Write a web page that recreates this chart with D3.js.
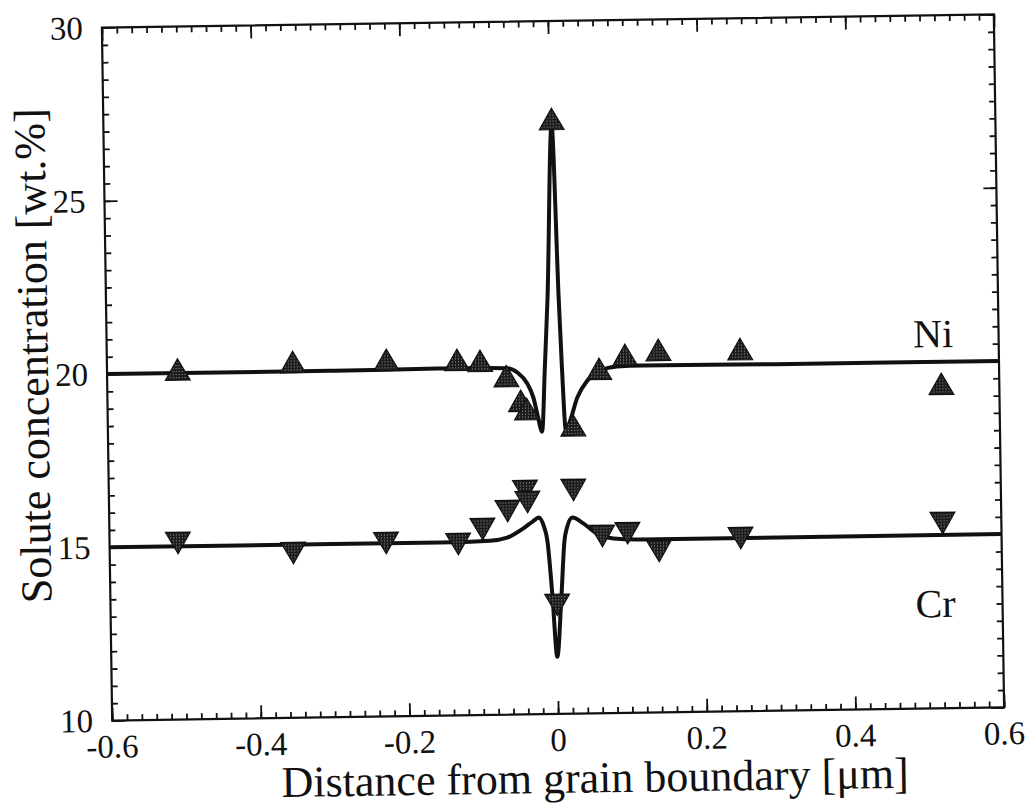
<!DOCTYPE html>
<html>
<head>
<meta charset="utf-8">
<script src="https://cdn.jsdelivr.net/npm/d3@7"></script>
<style>
  html, body { margin: 0; padding: 0; background: #fff; }
  svg { display: block; }
  text { font-family: "Liberation Serif", "Times New Roman", serif; fill: #111; }
</style>
</head>
<body>
<svg id="chart" width="1034" height="806"></svg>
<script>
// ---------- data ----------
const xDomain = [-0.6, 0.6];
const yDomain = [10, 30];
const xTickValues = [-0.6, -0.4, -0.2, 0, 0.2, 0.4, 0.6];
const xTickLabels = ["-0.6", "-0.4", "-0.2", "0", "0.2", "0.4", "0.6"];
const yTickValues = [10, 15, 20, 25, 30];
const yTickLabels = ["10", "15", "20", "25", "30"];
const xMinorStep = 0.02;
const yMinorStep = 0.5;

// measured Ni points [distance µm, wt.%]
const niX = [-0.505, -0.350, -0.224, -0.129, -0.098, -0.063, -0.044, -0.036, 0.003, 0.026, 0.062, 0.097, 0.142, 0.252, 0.522];
const niY = [20.0, 20.17, 20.19, 20.16, 20.12, 19.67, 18.95, 18.71, 27.07, 18.22, 19.84, 20.23, 20.36, 20.35, 19.26];
// measured Cr points
const crX = [-0.508, -0.353, -0.228, -0.131, -0.098, -0.064, -0.040, -0.037, 0.001, 0.025, 0.063, 0.097, 0.139, 0.249, 0.521];
const crY = [15.20, 14.86, 15.11, 15.05, 15.47, 15.98, 16.55, 16.23, 13.25, 16.56, 15.22, 15.29, 14.76, 15.10, 15.45];

// fitted profiles
const niCurveX = [-0.6, -0.3, -0.15, -0.062, -0.048, -0.035, -0.027, -0.021, -0.016, -0.011, -0.006, 0.003, 0.009, 0.012, 0.016, 0.022, 0.032, 0.046, 0.064, 0.086, 0.12, 0.3, 0.6];
const niCurveY = [20.0, 20.0, 20.02, 20.0, 19.87, 19.55, 19.14, 18.56, 18.15, 20.0, 22.0, 27.0, 22.0, 20.0, 18.18, 18.46, 19.12, 19.61, 19.89, 20.0, 20.02, 20.0, 20.0];
const crCurveX = [-0.6, -0.3, -0.155, -0.088, -0.065, -0.043, -0.030, -0.022, -0.015, -0.011, -0.0055, 0.0, 0.0065, 0.012, 0.016, 0.023, 0.0376, 0.056, 0.0775, 0.114, 0.3, 0.6];
const crCurveY = [15.0, 15.0, 15.0, 15.03, 15.11, 15.37, 15.57, 15.68, 15.39, 15.0, 13.48, 11.65, 13.3, 15.0, 15.4, 15.66, 15.49, 15.19, 15.04, 15.0, 15.0, 15.0];

const seriesLabels = [
  { text: "Ni", x: 0.485, y: 20.42 },
  { text: "Cr", x: 0.483, y: 12.63 }
];
const xTitle = "Distance from grain boundary [\u03bcm]";
const yTitle = "Solute concentration [wt.%]";

// ---------- layout ----------
const L = 107, R = 999, T = 21, B = 714;
const svg = d3.select("#chart");

const defs = svg.append("defs");
const pat = defs.append("pattern").attr("id", "stip")
  .attr("patternUnits", "userSpaceOnUse").attr("width", 3).attr("height", 3);
pat.append("rect").attr("width", 3).attr("height", 3).attr("fill", "#1c1c1c");
pat.append("rect").attr("x", 1).attr("y", 1).attr("width", 0.9).attr("height", 0.9).attr("fill", "#bdbdbd");

const g = svg.append("g").attr("transform", `rotate(-0.85, 553, 367)`);

const x = d3.scaleLinear().domain(xDomain).range([L, R]);
const y = d3.scaleLinear().domain(yDomain).range([B, T]);

const xMinor = d3.range(0, 61).map(i => +(xDomain[0] + i * xMinorStep).toFixed(3));
const yMinor = d3.range(0, 41).map(i => +(yDomain[0] + i * yMinorStep).toFixed(2));

function drawAxis(axisFn, scale, values, size, tr) {
  const a = g.append("g").attr("transform", tr)
    .call(axisFn(scale).tickValues(values).tickSize(size).tickFormat(""));
  a.select(".domain").remove();
  a.selectAll("line").attr("stroke", "#111").attr("stroke-width", 1.8);
}
// minor ticks (inward)
drawAxis(d3.axisBottom, x, xMinor, -6, `translate(0,${B})`);
drawAxis(d3.axisTop, x, xMinor, -6, `translate(0,${T})`);
drawAxis(d3.axisLeft, y, yMinor, -6, `translate(${L},0)`);
drawAxis(d3.axisRight, y, yMinor, -6, `translate(${R},0)`);
// major ticks
drawAxis(d3.axisBottom, x, xTickValues, -13, `translate(0,${B})`);
drawAxis(d3.axisTop, x, xTickValues, -13, `translate(0,${T})`);
drawAxis(d3.axisLeft, y, yTickValues, -13, `translate(${L},0)`);
drawAxis(d3.axisRight, y, yTickValues, -13, `translate(${R},0)`);

// frame
g.append("rect").attr("x", L).attr("y", T).attr("width", R - L).attr("height", B - T)
  .attr("fill", "none").attr("stroke", "#111").attr("stroke-width", 2.2);

// tick labels
g.append("g").selectAll("text").data(xTickValues).join("text")
  .attr("x", d => x(d)).attr("y", B + 37)
  .attr("text-anchor", "middle").attr("font-size", 33)
  .text((d, i) => xTickLabels[i]);
g.append("g").selectAll("text").data(yTickValues).join("text")
  .attr("x", L - 19).attr("y", d => y(d)).attr("dy", "0.34em")
  .attr("text-anchor", "end").attr("font-size", 33)
  .text((d, i) => yTickLabels[i]);

// axis titles
g.append("text").attr("x", 589).attr("y", 793)
  .attr("text-anchor", "middle").attr("font-size", 44).text(xTitle);
g.append("text").attr("transform", `translate(48,348) rotate(-90)`)
  .attr("text-anchor", "middle").attr("font-size", 44).text(yTitle);

// curves
const line = d3.line().x(d => x(d[0])).y(d => y(d[1])).curve(d3.curveMonotoneX);
g.append("path").datum(niCurveX.map((v, i) => [v, niCurveY[i]]))
  .attr("d", line).attr("fill", "none").attr("stroke", "#111")
  .attr("stroke-width", 4).attr("stroke-linejoin", "round");
g.append("path").datum(crCurveX.map((v, i) => [v, crCurveY[i]]))
  .attr("d", line).attr("fill", "none").attr("stroke", "#111")
  .attr("stroke-width", 4).attr("stroke-linejoin", "round");

// markers
const tri = d3.symbol().type(d3.symbolTriangle).size(265);
g.append("g").selectAll("path").data(niX.map((v, i) => [v, niY[i]])).join("path")
  .attr("d", tri)
  .attr("transform", d => `translate(${x(d[0])},${y(d[1])})`)
  .attr("fill", "url(#stip)").attr("stroke", "#111").attr("stroke-width", 1.2);
g.append("g").selectAll("path").data(crX.map((v, i) => [v, crY[i]])).join("path")
  .attr("d", tri)
  .attr("transform", d => `translate(${x(d[0])},${y(d[1])}) rotate(180)`)
  .attr("fill", "url(#stip)").attr("stroke", "#111").attr("stroke-width", 1.2);

// series labels
g.append("g").selectAll("text").data(seriesLabels).join("text")
  .attr("x", d => x(d.x)).attr("y", d => y(d.y))
  .attr("font-size", 40).text(d => d.text);
</script>
</body>
</html>
